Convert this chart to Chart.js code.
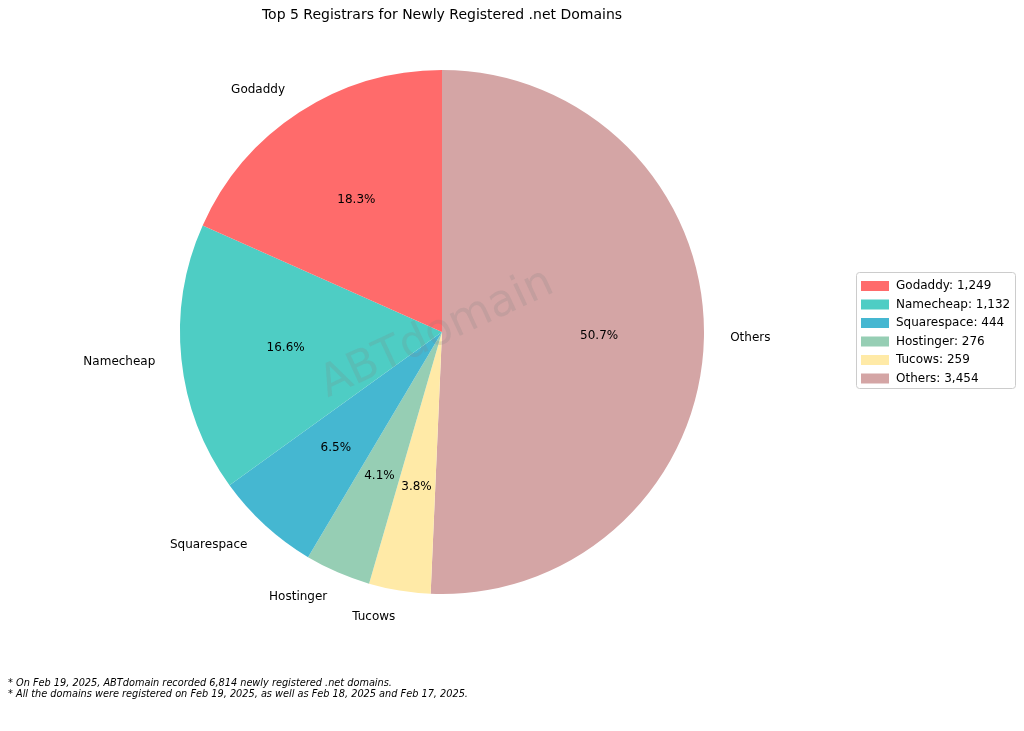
<!DOCTYPE html>
<html><head><meta charset="utf-8">
<script src="https://cdn.jsdelivr.net/npm/chart.js@4/dist/chart.umd.min.js"></script>
<style>html,body{margin:0;padding:0;background:#fff}#w{width:1024px;height:731px}</style>
</head><body><div id="w"><canvas id="c"></canvas></div>
<script>
const categories=["Godaddy","Namecheap","Squarespace","Hostinger","Tucows","Others"];
const values=[1249,1132,444,276,259,3454];
const colors=["#FF6B6B","#4ECDC4","#45B7D1","#96CEB4","#FFEAA7","#D4A5A5"];
const total=values.reduce((a,b)=>a+b,0);
const F="'DejaVu Sans', sans-serif";
// matplotlib counterclockwise order -> reverse for Chart.js clockwise
const rc=[...categories].reverse(), rv=[...values].reverse(), rcol=[...colors].reverse();
const deco={id:'deco',afterDatasetsDraw(ch){
  const ctx=ch.ctx; const meta=ch.getDatasetMeta(0);
  ctx.save(); ctx.fillStyle='#000';
  meta.data.forEach((arc,i)=>{
    const a=(arc.startAngle+arc.endAngle)/2, r=arc.outerRadius, cx=arc.x, cy=arc.y;
    ctx.font='12px '+F; ctx.textBaseline='middle'; ctx.textAlign='center';
    ctx.fillText((rv[i]/total*100).toFixed(1)+'%',cx+Math.cos(a)*r*0.6,cy+Math.sin(a)*r*0.6);
    const lx=cx+Math.cos(a)*r*1.1, ly=cy+Math.sin(a)*r*1.1;
    ctx.textAlign=Math.cos(a)>=0?'left':'right';
    ctx.fillText(rc[i],lx,ly);
  });
  const arc=meta.data[0];
  ctx.save(); ctx.translate(arc.x-5,arc.y+2); ctx.rotate(-25*Math.PI/180);
  ctx.font='44px '+F; ctx.fillStyle='rgba(128,128,128,0.2)'; ctx.textAlign='center'; ctx.textBaseline='middle';
  ctx.fillText('ABTdomain',0,0); ctx.restore();
  ctx.font='14px '+F; ctx.textAlign='center'; ctx.textBaseline='middle'; ctx.fillStyle='#000';
  ctx.fillText('Top 5 Registrars for Newly Registered .net Domains',arc.x,15);
  ctx.strokeStyle='#ccc'; ctx.lineWidth=1; ctx.fillStyle='#fff';
  ctx.beginPath(); ctx.roundRect(856.5,272.5,159,116,3); ctx.fill(); ctx.stroke();
  ctx.font='12px '+F; ctx.textAlign='left';
  categories.forEach((c,i)=>{
    const y=286+i*18.5;
    ctx.fillStyle=colors[i]; ctx.fillRect(861,y-5,28,10);
    ctx.fillStyle='#000'; ctx.fillText(c+': '+values[i].toLocaleString('en-US'),896,y);
  });
  ctx.font='italic 9.75px '+F;
  ctx.fillText('* On Feb 19, 2025, ABTdomain recorded 6,814 newly registered .net domains.',8,683);
  ctx.fillText('* All the domains were registered on Feb 19, 2025, as well as Feb 18, 2025 and Feb 17, 2025.',8,694);
  ctx.restore();
}};
new Chart(document.getElementById('c'),{type:'pie',
 data:{labels:rc,datasets:[{data:rv,backgroundColor:rcol,borderWidth:0}]},
 options:{responsive:true,maintainAspectRatio:false,animation:false,
  layout:{padding:{left:180,right:320,top:70,bottom:137}},
  plugins:{legend:{display:false},tooltip:{enabled:false}}},
 plugins:[deco]});
</script></body></html>
